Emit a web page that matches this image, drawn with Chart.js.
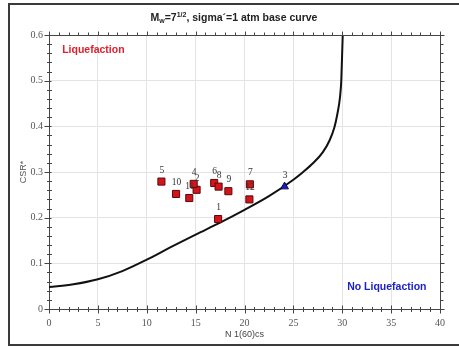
<!DOCTYPE html>
<html>
<head>
<meta charset="utf-8">
<script src="https://cdn.jsdelivr.net/npm/chart.js@4/dist/chart.umd.min.js"></script>
<style>
  html, body { margin: 0; padding: 0; background: #fff; }
  #c { display: block; }
</style>
</head>
<body>
<canvas id="c" width="459" height="347"></canvas>
<script>
// ---- data ----
const curveX = [0, 2.5, 5, 7.5, 10, 12.5, 15, 17.5, 20, 22.5, 25, 26, 27, 28, 28.7, 29.2, 29.5, 29.77, 29.9, 30.03, 30.05];
const curveY = [0.048, 0.054, 0.065, 0.083, 0.108, 0.136, 0.163, 0.189, 0.217, 0.247, 0.283, 0.300, 0.319, 0.343, 0.369, 0.398, 0.427, 0.464, 0.500, 0.587, 0.600];

const squareLabels = ['1', '2', '4', '5', '6', '7', '8', '9', '10', '11', '12'];
const squareN = [17.3, 15.1, 14.8, 11.5, 16.9, 20.55, 17.35, 18.35, 13.0, 14.35, 20.5];
const squareCSR = [0.197, 0.261, 0.274, 0.279, 0.276, 0.273, 0.268, 0.258, 0.252, 0.243, 0.240];

const triangleLabels = ['3'];
const triangleN = [24.1];
const triangleCSR = [0.268];

const xTickValues = [0, 5, 10, 15, 20, 25, 30, 35, 40];
const yTickValues = [0, 0.1, 0.2, 0.3, 0.4, 0.5, 0.6];

// title pieces: [text, style] where style is 'n' normal, 'sub' subscript, 'sup' superscript
const titleParts = [['M', 'n'], ['w', 'sub'], ['=7', 'n'], ['1/2', 'sup'], [', sigma', 'n'], ['\u00b4', 'n'], ['=1 atm base curve', 'n']];
const xTitle = 'N 1(60)cs';
const yTitle = 'CSR*';
const regionLabels = ['Liquefaction', 'No Liquefaction'];

// ---- helpers ----
const toPts = (xs, ys) => xs.map((x, i) => ({x: x, y: ys[i]}));
const FAM = '"Liberation Sans", Arial, sans-serif';

const framePlugin = {
  id: 'frame',
  beforeDraw(chart) {
    const ctx = chart.ctx;
    ctx.save();
    ctx.fillStyle = '#fff';
    ctx.fillRect(0, 0, chart.width, chart.height);
    ctx.strokeStyle = '#3a3a3a';
    ctx.lineWidth = 2;
    ctx.strokeRect(9, 4, chart.width + 20, 341);

    // title
    const fontFor = st => st === 'n' ? 'bold 10.5px ' + FAM : 'bold 7px ' + FAM;
    let total = 0;
    titleParts.forEach(p => { ctx.font = fontFor(p[1]); total += ctx.measureText(p[0]).width; });
    let x = 234 - total / 2;
    const base = 21;
    ctx.fillStyle = '#222';
    ctx.textBaseline = 'alphabetic';
    ctx.textAlign = 'left';
    titleParts.forEach(p => {
      ctx.font = fontFor(p[1]);
      const dy = p[1] === 'sub' ? 2 : (p[1] === 'sup' ? -4 : 0);
      ctx.fillText(p[0], x, base + dy);
      x += ctx.measureText(p[0]).width;
    });
    ctx.restore();
  },
  afterDraw(chart) {
    const ctx = chart.ctx;
    const a = chart.chartArea;
    const xs = chart.scales.x, ys = chart.scales.y;
    ctx.save();
    ctx.strokeStyle = '#444';
    ctx.lineWidth = 1;
    ctx.beginPath();
    ctx.moveTo(a.left, Math.round(a.top) + 0.5);
    ctx.lineTo(a.right, Math.round(a.top) + 0.5);
    ctx.moveTo(Math.round(a.right) + 0.5, a.top);
    ctx.lineTo(Math.round(a.right) + 0.5, a.bottom);
    for (let v = xs.min; v <= xs.max; v += 1) {
      const px = Math.round(xs.getPixelForValue(v)) + 0.5;
      const major = v % 5 === 0;
      const b = Math.round(a.bottom) + 0.5;
      ctx.moveTo(px, b - (major ? 4 : 2.5));
      ctx.lineTo(px, b + (major ? 4 : 2.5));
      const t = Math.round(a.top) + 0.5;
      ctx.moveTo(px, t);
      ctx.lineTo(px, t - (major ? 4 : 3));
    }
    for (let i = 0; i <= 30; i++) {
      const v = i * 0.02;
      const py = Math.round(ys.getPixelForValue(v)) + 0.5;
      const major = i % 5 === 0;
      const l = Math.round(a.left) + 0.5;
      ctx.moveTo(l - (major ? 5 : 2.5), py);
      ctx.lineTo(l + (major ? 2 : 2.5), py);
      const r = Math.round(a.right) + 0.5;
      ctx.moveTo(r, py);
      ctx.lineTo(r + (major ? 4 : 3), py);
    }
    ctx.stroke();

    ctx.font = 'bold 10.5px ' + FAM;
    ctx.textBaseline = 'middle';
    ctx.textAlign = 'left';
    ctx.fillStyle = '#e0202c';
    ctx.fillText(regionLabels[0], xs.getPixelForValue(1.35), ys.getPixelForValue(0.568));
    ctx.fillStyle = '#1c22c8';
    ctx.fillText(regionLabels[1], xs.getPixelForValue(30.5), ys.getPixelForValue(0.049));
    ctx.restore();
  },
  afterDatasetsDraw(chart) {
    const ctx = chart.ctx;
    ctx.save();
    ctx.font = '9.5px "Liberation Serif", "Times New Roman", serif';
    ctx.fillStyle = '#333';
    ctx.textAlign = 'center';
    ctx.textBaseline = 'middle';
    chart.data.datasets.forEach((ds, di) => {
      if (!ds.pointLabels) return;
      const meta = chart.getDatasetMeta(di);
      meta.data.forEach((el, i) => {
        ctx.fillText(ds.pointLabels[i], el.x + 0.5, el.y - 11.5);
      });
    });
    ctx.restore();
  }
};

new Chart(document.getElementById('c'), {
  type: 'scatter',
  data: {
    datasets: [
      {
        label: 'Base curve',
        data: toPts(curveX, curveY),
        showLine: true,
        borderColor: '#111',
        borderWidth: 2,
        pointRadius: 0,
        cubicInterpolationMode: 'monotone',
        fill: false,
        order: 2
      },
      {
        label: 'Liquefied',
        data: toPts(squareN, squareCSR),
        pointLabels: squareLabels,
        pointStyle: 'rect',
        pointRadius: 5,
        backgroundColor: '#d4141c',
        borderColor: '#5a0808',
        borderWidth: 1,
        order: 1
      },
      {
        label: 'Non-liquefied',
        data: toPts(triangleN, triangleCSR),
        pointLabels: triangleLabels,
        pointStyle: 'triangle',
        pointRadius: 4.5,
        backgroundColor: '#1a1ab4',
        borderColor: '#0a0a50',
        borderWidth: 1,
        order: 1
      }
    ]
  },
  options: {
    responsive: false,
    animation: false,
    devicePixelRatio: 1,
    layout: { padding: { left: 0, right: 19, top: 35, bottom: 0 } },
    plugins: {
      legend: { display: false },
      tooltip: { enabled: false },
      title: { display: false }
    },
    scales: {
      x: {
        type: 'linear',
        min: 0,
        max: 40,
        afterBuildTicks(s) { s.ticks = xTickValues.map(v => ({value: v})); },
        afterFit(s) { s.height = 38; },
        ticks: {
          padding: 8,
          color: '#555',
          font: { family: '"Liberation Serif", "Times New Roman", serif', size: 10 }
        },
        grid: { color: '#e4e4e4', drawTicks: false },
        border: { display: true, color: '#444', width: 1 },
        title: {
          display: true,
          text: xTitle,
          color: '#444',
          font: { family: FAM, size: 9 },
          padding: { top: 0, bottom: 7 }
        }
      },
      y: {
        type: 'linear',
        min: 0,
        max: 0.6,
        afterBuildTicks(s) { s.ticks = yTickValues.map(v => ({value: v})); },
        afterFit(s) { s.width = 49; },
        ticks: {
          padding: 6,
          color: '#555',
          font: { family: '"Liberation Serif", "Times New Roman", serif', size: 10 },
          callback: v => (v === 0 ? '0' : v.toFixed(1))
        },
        grid: { color: '#e4e4e4', drawTicks: false },
        border: { display: true, color: '#444', width: 1 },
        title: {
          display: true,
          text: yTitle,
          color: '#555',
          font: { family: FAM, size: 9 },
          padding: { top: 18, bottom: 0 }
        }
      }
    }
  },
  plugins: [framePlugin]
});
</script>
</body>
</html>
